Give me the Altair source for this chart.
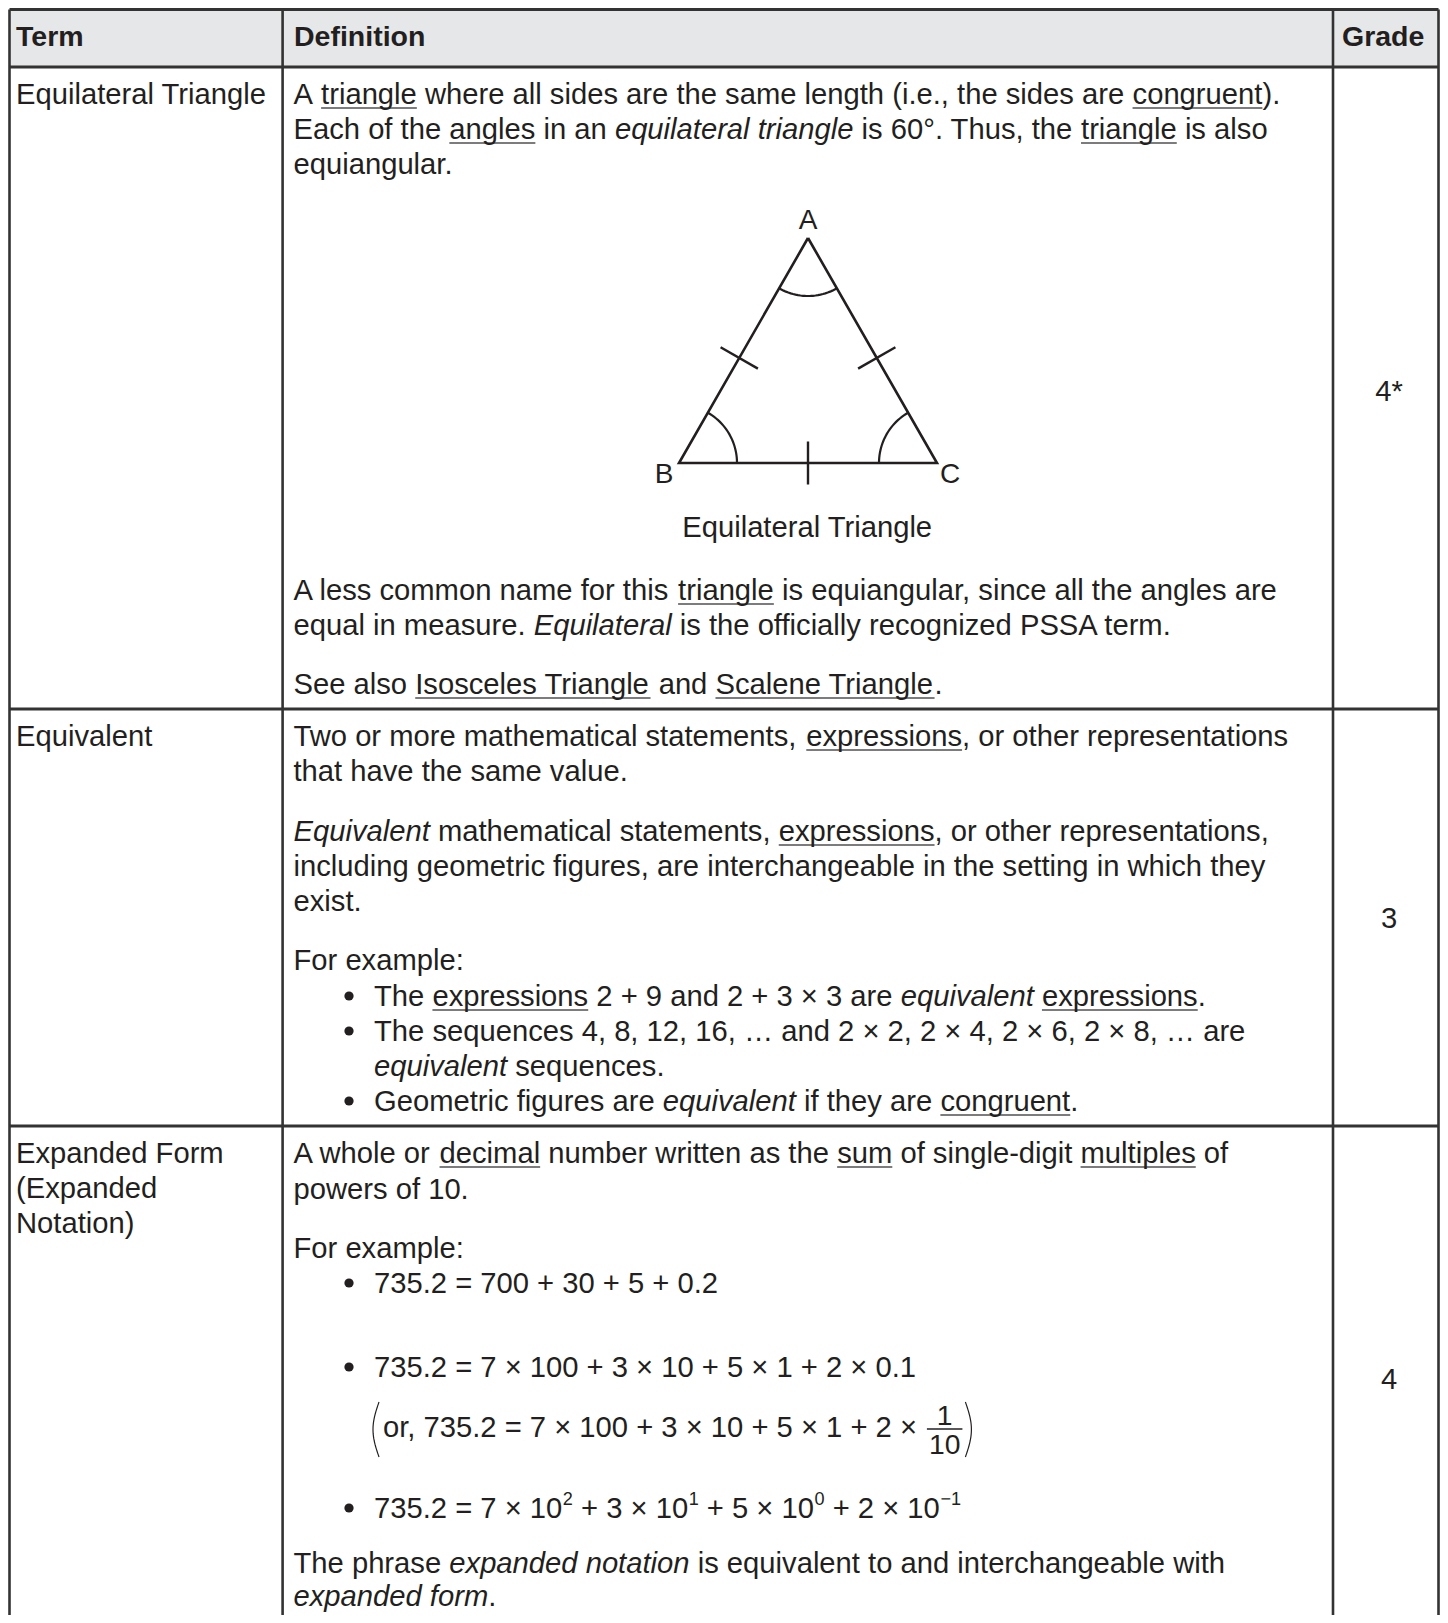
import re
import math
import numpy as np
import pandas as pd
import altair as alt

# ---------------- content ----------------
HEADERS = ["Term", "Definition", "Grade"]
TERMS = [["Equilateral Triangle"], ["Equivalent"], ["Expanded Form", "(Expanded", "Notation)"]]
GRADES = ["4*", "3", "4"]

# markup: _underlined_, *italic*, ^{superscript}, \frac{num}{den}
DEF_EQUILATERAL = [
    "A _triangle_ where all sides are the same length (i.e., the sides are _congruent_).",
    "Each of the _angles_ in an *equilateral triangle* is 60°. Thus, the _triangle_ is also",
    "equiangular.",
    "A less common name for this _triangle_ is equiangular, since all the angles are",
    "equal in measure. *Equilateral* is the officially recognized PSSA term.",
    "See also _Isosceles Triangle_ and _Scalene Triangle_.",
]
DEF_EQUIVALENT = [
    "Two or more mathematical statements, _expressions_, or other representations",
    "that have the same value.",
    "*Equivalent* mathematical statements, _expressions_, or other representations,",
    "including geometric figures, are interchangeable in the setting in which they",
    "exist.",
    "For example:",
    "The _expressions_ 2 + 9 and 2 + 3 × 3 are *equivalent* _expressions_.",
    "The sequences 4, 8, 12, 16, … and 2 × 2, 2 × 4, 2 × 6, 2 × 8, … are",
    "*equivalent* sequences.",
    "Geometric figures are *equivalent* if they are _congruent_.",
]
DEF_EXPANDED = [
    "A whole or _decimal_ number written as the _sum_ of single-digit _multiples_ of",
    "powers of 10.",
    "For example:",
    "735.2 = 700 + 30 + 5 + 0.2",
    "735.2 = 7 × 100 + 3 × 10 + 5 × 1 + 2 × 0.1",
    r"or, 735.2 = 7 × 100 + 3 × 10 + 5 × 1 + 2 × \frac{1}{10}",
    "735.2 = 7 × 10^{2} + 3 × 10^{1} + 5 × 10^{0} + 2 × 10^{−1}",
    "The phrase *expanded notation* is equivalent to and interchangeable with",
    "*expanded form*.",
]
DEFINITIONS = [DEF_EQUILATERAL, DEF_EQUIVALENT, DEF_EXPANDED]

FIGURE_CAPTION = "Equilateral Triangle"
VERTEX_NAMES = ["A", "B", "C"]
VERTEX_X = [808, 679, 937]
VERTEX_Y = [238, 463, 463]

# ---------------- layout ----------------
COL_X = [9.5, 282.6, 1333.0, 1438.5]
ROW_Y = [9.5, 67.0, 709.0, 1126.0, 1623.0]
HEADER_BASE = 46
HEADER_X = [16, 294, 1342]
TERM_X = 16
TERM_BASE = [[104], [746], [1163, 1198, 1233]]
GRADE_CX = 1389
GRADE_BASE = [401, 928, 1389]
DEF_X = 293.5
BULLET_CX = 349
BULLET_TEXT_X = 374
PAREN_TEXT_X = 383
# p = paragraph, b = bullet, c = bullet continuation, q = parenthesised line
DEF_KIND = [
    ["p"] * 6,
    ["p", "p", "p", "p", "p", "p", "b", "b", "c", "b"],
    ["p", "p", "p", "b", "b", "q", "b", "p", "p"],
]
DEF_BASE = [
    [104, 139, 174, 600, 635, 694],
    [746, 781, 841, 876, 911, 970, 1006, 1041, 1076, 1111],
    [1163, 1199, 1258, 1293, 1377, 1437, 1518, 1573, 1606],
]
CAPTION_CX, CAPTION_BASE = 808, 537
LABEL_CX = [808, 664, 950]
LABEL_BASE = [229, 483, 483]

FS = 29.2
INK = "#231f20"
RULE = "#333333"

# Helvetica / Arial (Liberation Sans) advance widths per 1000 em
W = {' ': 278, '!': 278, '"': 355, '#': 556, '$': 556, '%': 889, '&': 667, "'": 191,
     '(': 333, ')': 333, '*': 389, '+': 584, ',': 278, '-': 333, '.': 278, '/': 278,
     ':': 278, ';': 278, '<': 584, '=': 584, '>': 584, '?': 556, '@': 1015,
     'A': 667, 'B': 667, 'C': 722, 'D': 722, 'E': 667, 'F': 611, 'G': 778, 'H': 722,
     'I': 278, 'J': 500, 'K': 667, 'L': 556, 'M': 833, 'N': 722, 'O': 778, 'P': 667,
     'Q': 778, 'R': 722, 'S': 667, 'T': 611, 'U': 722, 'V': 667, 'W': 944, 'X': 667,
     'Y': 667, 'Z': 611,
     'a': 556, 'b': 556, 'c': 500, 'd': 556, 'e': 556, 'f': 278, 'g': 556, 'h': 556,
     'i': 222, 'j': 222, 'k': 500, 'l': 222, 'm': 833, 'n': 556, 'o': 556, 'p': 556,
     'q': 556, 'r': 333, 's': 500, 't': 278, 'u': 556, 'v': 500, 'w': 722, 'x': 500,
     'y': 500, 'z': 500, '×': 584, '…': 1000, '°': 400, '−': 584, '•': 350}
for d in "0123456789":
    W[d] = 556


def tw(s, fs=FS):
    return sum(W.get(ch, 556) for ch in s) * fs / 1000.0


TOKEN = re.compile(r'(_[^_]+_|\*[^*]+\*|\^\{[^}]+\}|\\frac\{[^}]+\}\{[^}]+\})')


def parse(s):
    out = []
    for part in TOKEN.split(s):
        if not part:
            continue
        if part.startswith('\\frac'):
            m = re.match(r'\\frac\{([^}]+)\}\{([^}]+)\}', part)
            out.append(('frac', (m.group(1), m.group(2))))
        elif part.startswith('^{'):
            out.append(('sup', part[2:-1]))
        elif len(part) > 2 and part[0] == '_' and part[-1] == '_':
            out.append(('under', part[1:-1]))
        elif len(part) > 2 and part[0] == '*' and part[-1] == '*':
            out.append(('ital', part[1:-1]))
        else:
            out.append(('plain', part))
    return out


texts = []
segs = []
dots = []
seg_id = [0]


def add_seg(xs, ys, sw, col=INK):
    seg_id[0] += 1
    for i, (x, y) in enumerate(zip(xs, ys)):
        segs.append(dict(seg=f"s{seg_id[0]}", ord=i, x=float(x), y=float(y), sw=sw, col=col))


def add_text(x, y, t, style="normal", size=FS):
    texts.append(dict(x=float(x), y=float(y), text=t, style=style, size=size))


def layout_line(markup, x0, base):
    cur = x0
    for kind, t in parse(markup):
        if kind == 'frac':
            num, den = t
            fs2 = FS * 0.97
            wbar = max(tw(num, fs2), tw(den, fs2)) + 4
            xc = cur + wbar / 2
            add_text(xc - tw(num, fs2) / 2, base - 12, num, size=fs2)
            add_text(xc - tw(den, fs2) / 2, base + 17, den, size=fs2)
            add_seg([cur, cur + wbar], [base - 8, base - 8], 1.3)
            cur += wbar
        elif kind == 'sup':
            fs2 = FS * 0.62
            add_text(cur + 0.5, base - 13, t, size=fs2)
            cur += tw(t, fs2) + 0.5
        else:
            lead = len(t) - len(t.lstrip(' '))
            core = t.strip(' ')
            xs = cur + tw(t[:lead])
            if core:
                add_text(xs, base, core, "italic" if kind == 'ital' else "normal")
                if kind == 'under':
                    add_seg([xs, xs + tw(core)], [base + 4, base + 4], 1.4, "#505050")
            cur += tw(t)
    return cur


def paren(x_end, top, bot, bulge):
    s = np.linspace(0, 1, 31)
    add_seg(x_end - bulge * np.sin(np.pi * s), top + (bot - top) * s, 1.2)


# ---------------- header + table ----------------
for h, hx in zip(HEADERS, HEADER_X):
    add_text(hx, HEADER_BASE, h, "bold", 28.5)

for x in COL_X:
    add_seg([x, x], [ROW_Y[0], ROW_Y[-1]], 2.6, RULE)
for i, y in enumerate(ROW_Y[:-1]):
    add_seg([COL_X[0], COL_X[-1]], [y, y], 3.2, RULE)

for lines, bases in zip(TERMS, TERM_BASE):
    for t, b in zip(lines, bases):
        add_text(TERM_X, b, t)

for g, b in zip(GRADES, GRADE_BASE):
    add_text(GRADE_CX - tw(g) / 2, b, g)

for lines, kinds, bases in zip(DEFINITIONS, DEF_KIND, DEF_BASE):
    for t, k, b in zip(lines, kinds, bases):
        if k == 'p':
            layout_line(t, DEF_X, b)
        elif k == 'b':
            dots.append(dict(x=BULLET_CX, y=b - 10))
            layout_line(t, BULLET_TEXT_X, b)
        elif k == 'c':
            layout_line(t, BULLET_TEXT_X, b)
        else:
            paren(PAREN_TEXT_X - 4, b - 35, b + 20, 6)
            end = layout_line(t, PAREN_TEXT_X, b)
            paren(end + 3, b - 35, b + 20, -6)

# ---------------- triangle figure ----------------
V = list(zip(VERTEX_X, VERTEX_Y))
add_seg([V[0][0], V[1][0], V[2][0], V[0][0]], [V[0][1], V[1][1], V[2][1], V[0][1]], 2.6)
# equal-side tick marks
for (p, q) in [(V[0], V[1]), (V[0], V[2]), (V[1], V[2])]:
    t = 0.5 if p[1] == q[1] else 0.533
    cx, cy = p[0] + (q[0] - p[0]) * t, p[1] + (q[1] - p[1]) * t
    L = math.hypot(q[0] - p[0], q[1] - p[1])
    nx, ny = -(q[1] - p[1]) / L, (q[0] - p[0]) / L
    add_seg([cx - 21.5 * nx, cx + 21.5 * nx], [cy - 21.5 * ny, cy + 21.5 * ny], 2.4)
# equal-angle arcs
for i in range(3):
    v = V[i]
    p, q = V[(i + 1) % 3], V[(i + 2) % 3]
    a1 = math.atan2(p[1] - v[1], p[0] - v[0])
    a2 = math.atan2(q[1] - v[1], q[0] - v[0])
    if a2 - a1 > math.pi:
        a2 -= 2 * math.pi
    if a1 - a2 > math.pi:
        a2 += 2 * math.pi
    ts = np.linspace(a1, a2, 25)
    add_seg(v[0] + 58 * np.cos(ts), v[1] + 58 * np.sin(ts), 2.2)
for n, cx, b in zip(VERTEX_NAMES, LABEL_CX, LABEL_BASE):
    add_text(cx - tw(n, 28) / 2, b, n, size=28)
add_text(CAPTION_CX - tw(FIGURE_CAPTION) / 2, CAPTION_BASE, FIGURE_CAPTION)

# ---------------- chart ----------------
tdf = pd.DataFrame(texts)
sdf = pd.DataFrame(segs)
ddf = pd.DataFrame(dots)
hdf = pd.DataFrame([dict(x=COL_X[0], x2=COL_X[-1], y=ROW_Y[0], y2=ROW_Y[1])])

XS = alt.Scale(domain=[8, 1440], nice=False, zero=False)
YS = alt.Scale(domain=[8, 1615], nice=False, zero=False, reverse=True)

header_bg = alt.Chart(hdf).mark_rect(color="#e6e7e8").encode(
    x=alt.X("x:Q", scale=XS, axis=None), x2="x2:Q",
    y=alt.Y("y:Q", scale=YS, axis=None), y2="y2:Q")

lines = alt.Chart(sdf).mark_line(strokeCap="butt", strokeJoin="miter").encode(
    x=alt.X("x:Q", scale=XS, axis=None),
    y=alt.Y("y:Q", scale=YS, axis=None),
    detail="seg:N", order="ord:Q",
    color=alt.Color("col:N", scale=None),
    strokeWidth=alt.StrokeWidth("sw:Q", scale=None))

bullets = alt.Chart(ddf).mark_circle(color=INK, opacity=1, size=85).encode(
    x=alt.X("x:Q", scale=XS, axis=None), y=alt.Y("y:Q", scale=YS, axis=None))


def text_layer(style):
    kw = dict(align="left", baseline="alphabetic", font="Liberation Sans", color=INK)
    if style == "italic":
        kw["fontStyle"] = "italic"
    if style == "bold":
        kw["fontWeight"] = "bold"
    return alt.Chart(tdf[tdf["style"] == style]).mark_text(**kw).encode(
        x=alt.X("x:Q", scale=XS, axis=None),
        y=alt.Y("y:Q", scale=YS, axis=None),
        text="text:N",
        size=alt.Size("size:Q", scale=None))


chart = alt.layer(
    header_bg, lines, bullets,
    text_layer("normal"), text_layer("italic"), text_layer("bold"),
).properties(
    width=1432, height=1607,
    padding=0,
    autosize=alt.AutoSizeParams(type="none"),
    background="white",
).configure_view(stroke=None)

chart.save("out.html", embed_options={"renderer": "svg", "actions": False})
